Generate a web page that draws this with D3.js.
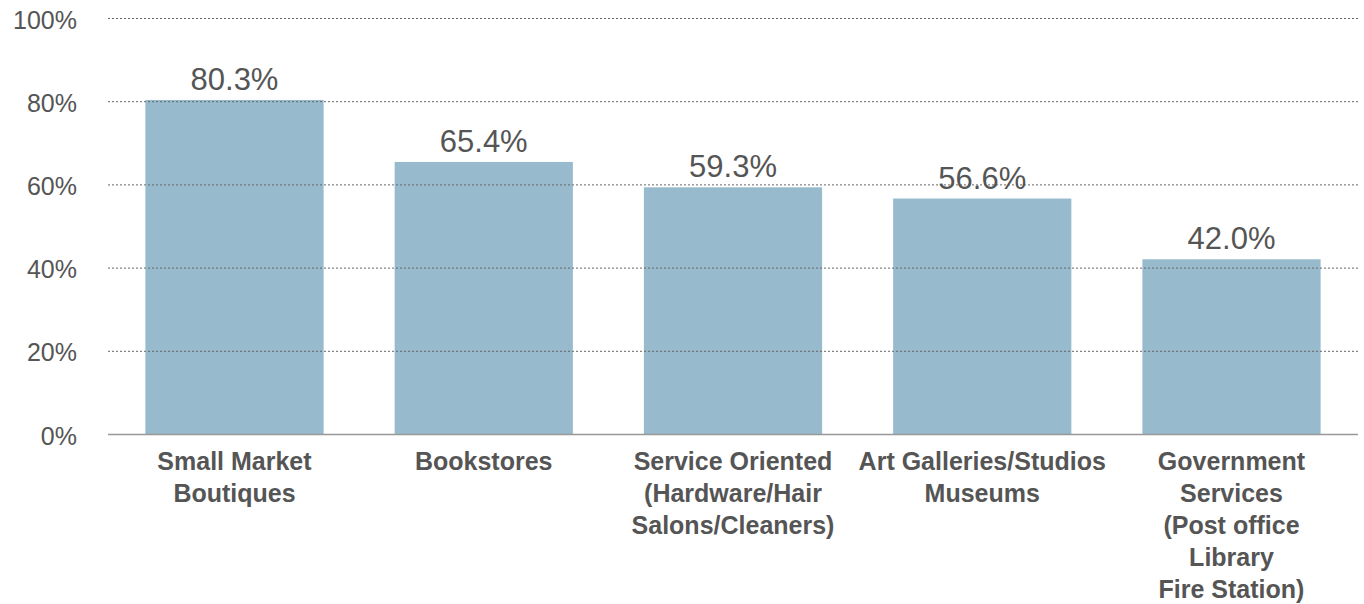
<!DOCTYPE html>
<html>
<head>
<meta charset="utf-8">
<script src="https://cdn.jsdelivr.net/npm/d3@7"></script>
<style>
	body { margin: 0; background: #fff; }
	svg { display: block; font-family: "Helvetica Neue", Helvetica, Arial, "Liberation Sans", sans-serif; }
</style>
</head>
<body>
<svg id="chart" width="1364" height="604"></svg>
<script>
// data
var categories = [
	['Small Market', 'Boutiques'],
	['Bookstores'],
	['Service Oriented', '(Hardware/Hair', 'Salons/Cleaners)'],
	['Art Galleries/Studios', 'Museums'],
	['Government', 'Services', '(Post office', 'Library', 'Fire Station)']
];
var values = [80.3, 65.4, 59.3, 56.6, 42.0];
var yTicks = [0, 20, 40, 60, 80, 100];

var WIDTH = 1364, HEIGHT = 604,
	margin = { top: 18, right: 6, bottom: 170, left: 108 };

var svg = d3.select('#chart');

var x = d3.scaleBand()
	.domain(d3.range(values.length))
	.range([margin.left, WIDTH - margin.right])
	.paddingInner(0.285)
	.paddingOuter(0.15);

var y = d3.scaleLinear()
	.domain([0, 100])
	.range([HEIGHT - margin.bottom, margin.top]);

// bars
svg.append('g')
	.selectAll('rect')
	.data(values)
	.enter()
	.append('rect')
	.attr('x', function (d, i) { return x(i); })
	.attr('y', function (d) { return y(d); })
	.attr('width', x.bandwidth())
	.attr('height', function (d) { return y(0) - y(d); })
	.attr('fill', '#97bacd');

// dotted grid drawn on top of bars
var yAxis = svg.append('g')
	.attr('transform', 'translate(' + margin.left + ',0)')
	.call(d3.axisLeft(y)
		.tickValues(yTicks)
		.tickSize(-(WIDTH - margin.left - margin.right))
		.tickPadding(31)
		.tickFormat(function (d) { return d + '%'; }));

yAxis.select('.domain').remove();
yAxis.selectAll('.tick line')
	.attr('stroke', '#666')
	.attr('stroke-width', 1)
	.attr('stroke-dasharray', '2,2')
	.filter(function (d) { return d === 0; })
	.remove();
yAxis.selectAll('.tick text')
	.attr('fill', '#555')
	.attr('font-size', 25)
	.attr('dy', '0.4em');

// baseline
svg.append('line')
	.attr('x1', margin.left)
	.attr('x2', WIDTH - margin.right)
	.attr('y1', y(0) + 0.5)
	.attr('y2', y(0) + 0.5)
	.attr('stroke', '#999')
	.attr('stroke-width', 1.5);

// value labels
svg.append('g')
	.selectAll('text')
	.data(values)
	.enter()
	.append('text')
	.attr('x', function (d, i) { return x(i) + x.bandwidth() / 2; })
	.attr('y', function (d) { return y(d) - 10; })
	.attr('text-anchor', 'middle')
	.attr('fill', '#555')
	.attr('font-size', 31)
	.text(function (d) { return d.toFixed(1) + '%'; });

// category labels
var cat = svg.append('g')
	.selectAll('text')
	.data(categories)
	.enter()
	.append('text')
	.attr('text-anchor', 'middle')
	.attr('fill', '#555')
	.attr('font-size', 25)
	.attr('font-weight', 'bold');

cat.selectAll('tspan')
	.data(function (d, i) { return d.map(function (line) { return { line: line, i: i }; }); })
	.enter()
	.append('tspan')
	.attr('x', function (d) { return x(d.i) + x.bandwidth() / 2; })
	.attr('y', function (d, j) { return y(0) + 36 + j * 32; })
	.text(function (d) { return d.line; });
</script>
</body>
</html>
